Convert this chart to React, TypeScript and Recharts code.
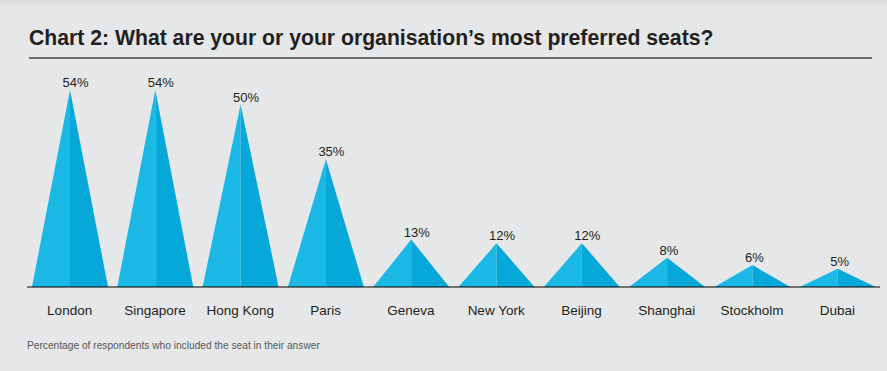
import React from 'react';
import {Bar, BarChart, LabelList, XAxis, YAxis} from 'recharts';

const cities = ['London', 'Singapore', 'Hong Kong', 'Paris', 'Geneva', 'New York', 'Beijing', 'Shanghai', 'Stockholm', 'Dubai'];
const shares = [54, 54, 50, 35, 13, 12, 12, 8, 6, 5];

const data = cities.map((city, i) => ({city, share: shares[i]}));

const FONT = '"Liberation Sans", Arial, Helvetica, sans-serif';
const LIGHT = '#1bb8e5';
const DARK = '#06a8da';

const Spike = (props: any) => {
  const {x, y, width, height} = props;
  if (!height) return null;
  const cx = x + width / 2;
  const by = y + height;
  return (
    <g>
      <polygon points={`${x},${by} ${cx},${y} ${cx},${by}`} fill={LIGHT} />
      <polygon points={`${cx},${y} ${x + width},${by} ${cx},${by}`} fill={DARK} />
    </g>
  );
};

const PctLabel = (props: any) => {
  const {x, y, width, value} = props;
  return (
    <text x={x + width / 2 - 7.5} y={y - 3} textAnchor="start" fontFamily={FONT} fontSize={13} fill="#231f20">
      {value}%
    </text>
  );
};

const CityTick = (props: any) => {
  const {x, y, payload} = props;
  return (
    <text x={x} y={y} dy={19.5} textAnchor="middle" fontFamily={FONT} fontSize={13.5} fill="#231f20">
      {payload.value}
    </text>
  );
};

export default function App() {
  return (
    <div
      style={{
        position: 'absolute',
        left: 0,
        top: 0,
        width: 887,
        height: 371,
        overflow: 'hidden',
        background: '#e6e7e8',
      }}
    >
      <div
        style={{
          position: 'absolute',
          left: 0,
          top: 0,
          width: 887,
          height: 6,
          background: 'linear-gradient(#d9dadb, rgba(230,231,232,0))',
        }}
      />
      <div
        style={{
          position: 'absolute',
          left: 29,
          top: 27,
          lineHeight: '22px',
          fontFamily: FONT,
          fontWeight: 700,
          fontSize: 21.2,
          color: '#231f20',
          whiteSpace: 'nowrap',
        }}
      >
        Chart 2: What are your or your organisation’s most preferred seats?
      </div>
      <div style={{position: 'absolute', left: 29, top: 57, width: 843, height: 2, background: '#6d6e70'}} />
      <div style={{position: 'absolute', left: 0, top: 0}}>
        <BarChart width={887} height={371} data={data} margin={{top: 68, right: 7, left: 27, bottom: 54}}>
          <YAxis hide domain={[0, 60]} />
          <Bar dataKey="share" barSize={76} shape={<Spike />} isAnimationActive={false}>
            <LabelList dataKey="share" content={<PctLabel />} />
          </Bar>
          <XAxis
            dataKey="city"
            height={30}
            tickLine={false}
            axisLine={{stroke: '#000', strokeOpacity: 0.5, strokeWidth: 2}}
            tick={<CityTick />}
            interval={0}
          />
        </BarChart>
      </div>
      <div
        style={{
          position: 'absolute',
          left: 27,
          top: 340,
          fontFamily: FONT,
          fontSize: 10.2,
          lineHeight: '12px',
          color: '#58595b',
          whiteSpace: 'nowrap',
        }}
      >
        Percentage of respondents who included the seat in their answer
      </div>
    </div>
  );
}
